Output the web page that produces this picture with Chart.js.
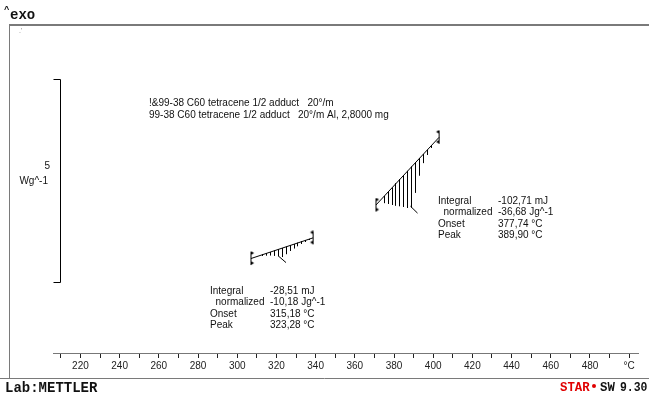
<!DOCTYPE html>
<html>
<head>
<meta charset="utf-8">
<script src="https://cdn.jsdelivr.net/npm/chart.js@4.4.1/dist/chart.umd.min.js"></script>
<style>
  html, body { margin: 0; padding: 0; background: #fff; }
  #wrap { width: 649px; height: 396px; }
</style>
</head>
<body>
<div id="wrap"><canvas id="chart" width="649" height="396"></canvas></div>
<script>
// x axis (°C), minor ticks every 10, labels every 20, unit label at 500
const tickValues = [210, 220, 230, 240, 250, 260, 270, 280, 290, 300, 310, 320, 330, 340, 350,
                    360, 370, 380, 390, 400, 410, 420, 430, 440, 450, 460, 470, 480, 490, 500]
const tickLabels = ['', '220', '', '240', '', '260', '', '280', '', '300', '', '320', '', '340', '',
                    '360', '', '380', '', '400', '', '420', '', '440', '', '460', '', '480', '', '°C']

// y scale bar: 5 Wg^-1
const scaleBarT = [206.4, 209.6, 209.6, 206.4]
const scaleBarY = [1.74, 1.74, 6.74, 6.74]

// first peak: integration baseline, hatch positions and curve depth below the baseline (Wg^-1)
const base1T = [307.0, 338.7]
const base1Y = [2.33, 2.84]
const hatch1T = [313, 315, 317, 319, 321, 323, 325, 327, 329, 331, 333, 335, 337]
const hatch1Depth = [0.03, 0.05, 0.08, 0.12, 0.17, 0.22, 0.18, 0.13, 0.10, 0.08, 0.06, 0.04, 0.02]
const peak1T = [321.3, 324.9]
const peak1Y = [2.38, 2.23]

// second peak
const base2T = [370.8, 403.0]
const base2Y = [3.65, 5.32]
const hatch2T = [375, 377, 379, 381, 383, 385, 387, 389, 391, 393, 395, 397, 399]
const hatch2Depth = [0.17, 0.29, 0.42, 0.54, 0.66, 0.78, 0.91, 1.00, 0.74, 0.42, 0.22, 0.12, 0.05]
const peak2T = [388.4, 392.0]
const peak2Y = [3.62, 3.45]

const legendLines = ['!&99-38 C60 tetracene 1/2 adduct   20°/m',
                     '99-38 C60 tetracene 1/2 adduct   20°/m Al, 2,8000 mg']
const result1 = [['Integral', '-28,51 mJ'], ['  normalized', '-10,18 Jg^-1'], ['Onset', '315,18 °C'], ['Peak', '323,28 °C']]
const result2 = [['Integral', '-102,71 mJ'], ['  normalized', '-36,68 Jg^-1'], ['Onset', '377,74 °C'], ['Peak', '389,90 °C']]

function pts(xs, ys) {
  return xs.map((x, i) => ({x: x, y: ys[i]}))
}

function hatchPoints(bT, bY, hT, hD) {
  const slope = (bY[1] - bY[0]) / (bT[1] - bT[0])
  const out = []
  hT.forEach((t, i) => {
    const yb = bY[0] + slope * (t - bT[0])
    out.push({x: t, y: yb}, {x: t, y: yb - hD[i]}, {x: t, y: null})
  })
  return out
}

function endMarker(side) {
  const c = document.createElement('canvas')
  c.width = 9; c.height = 15
  const g = c.getContext('2d')
  g.fillStyle = '#000'
  g.fillRect(4, 1, 1, 13)
  const d = side === 'left' ? 1 : -1
  ;[2, 12].forEach(y => {
    g.beginPath()
    g.moveTo(4.5, y - 2)
    g.lineTo(4.5 + 3 * d, y)
    g.lineTo(4.5, y + 2)
    g.closePath()
    g.fill()
  })
  return c
}
const leftMark = endMarker('left')
const rightMark = endMarker('right')

const lineDs = (data, snap) => ({
  data: data, borderColor: '#000', borderWidth: 1, pointRadius: 0,
  fill: false, tension: 0, spanGaps: false, snap: snap || false
})

// keep vertical/horizontal strokes on whole pixels so they stay crisp
const snapLines = {
  id: 'snapLines',
  beforeDatasetsDraw(chart) {
    chart.data.datasets.forEach((ds, i) => {
      if (!ds.snap) return
      chart.getDatasetMeta(i).data.forEach(p => {
        p.x = Math.floor(p.x) + 0.5
        if (ds.snap === 'xy') p.y = Math.floor(p.y) + 0.5
      })
    })
  }
}

function condensed(ctx, text, x, y, sx) {
  ctx.save()
  ctx.translate(x, y)
  ctx.scale(sx, 1)
  ctx.fillText(text, 0, 0)
  ctx.restore()
}

const frameAndText = {
  id: 'frameAndText',
  beforeDraw(chart) {
    const ctx = chart.ctx
    ctx.save()
    ctx.fillStyle = '#fff'
    ctx.fillRect(0, 0, chart.width, chart.height)
    ctx.strokeStyle = '#7a7a7a'
    ctx.lineWidth = 2
    ctx.beginPath()
    ctx.moveTo(9, 25); ctx.lineTo(649, 25)
    ctx.stroke()
    ctx.lineWidth = 1
    ctx.beginPath()
    ctx.moveTo(9.5, 25); ctx.lineTo(9.5, 378)
    ctx.moveTo(0, 378.5); ctx.lineTo(649, 378.5)
    ctx.stroke()
    ctx.restore()
  },
  afterDraw(chart) {
    const ctx = chart.ctx
    ctx.save()
    ctx.fillStyle = '#111'
    ctx.textBaseline = 'middle'
    ctx.font = '10px "Liberation Sans"'
    legendLines.forEach((s, i) => ctx.fillText(s, 149, 103 + i * 12))
    result1.forEach((r, i) => {
      ctx.fillText(r[0], 210, 291 + i * 11.5)
      ctx.fillText(r[1], 270, 291 + i * 11.5)
    })
    result2.forEach((r, i) => {
      ctx.fillText(r[0], 438, 201 + i * 11.5)
      ctx.fillText(r[1], 498, 201 + i * 11.5)
    })
    ctx.textAlign = 'right'
    ctx.fillText('5', 50, 166)
    ctx.fillText('Wg^-1', 48, 181)
    ctx.textAlign = 'left'

    ctx.font = 'bold 14px "Liberation Mono"'
    ctx.fillText('exo', 10, 15)
    ctx.font = 'bold 9px "Liberation Mono"'
    ctx.fillText('^', 4, 10)
    ctx.font = '7px "Liberation Sans"'
    ctx.fillStyle = '#888'
    ctx.fillText(".'", 19, 31)

    ctx.fillStyle = '#111'
    ctx.font = 'bold 14px "Liberation Mono"'
    ctx.fillText('Lab:METTLER', 5, 388)
    ctx.font = 'bold 13px "Liberation Mono"'
    ctx.fillStyle = '#e00000'
    condensed(ctx, 'STAR', 560, 388, 0.95)
    ctx.beginPath()
    ctx.arc(594, 386, 2, 0, Math.PI * 2)
    ctx.fill()
    ctx.fillStyle = '#111'
    condensed(ctx, 'SW', 600, 388, 0.95)
    condensed(ctx, '9.30', 620, 388, 0.88)
    ctx.restore()
  }
}

new Chart(document.getElementById('chart'), {
  type: 'line',
  data: {
    datasets: [
      lineDs(pts(scaleBarT, scaleBarY), 'xy'),
      lineDs(pts(base1T, base1Y)),
      lineDs(hatchPoints(base1T, base1Y, hatch1T, hatch1Depth), 'x'),
      lineDs(pts(peak1T, peak1Y)),
      lineDs(pts(base2T, base2Y)),
      lineDs(hatchPoints(base2T, base2Y, hatch2T, hatch2Depth), 'x'),
      lineDs(pts(peak2T, peak2Y)),
      {
        data: pts([base1T[0], base1T[1], base2T[0], base2T[1]], [base1Y[0], base1Y[1], base2Y[0], base2Y[1]]),
        showLine: false,
        pointStyle: [leftMark, rightMark, leftMark, rightMark],
        pointRadius: 6
      }
    ]
  },
  options: {
    responsive: false,
    animation: false,
    devicePixelRatio: 1,
    layout: { padding: { left: 53, right: 11, top: 25, bottom: 22 } },
    plugins: { legend: { display: false }, tooltip: { enabled: false } },
    scales: {
      x: {
        type: 'linear',
        min: 206,
        max: 504.5,
        afterBuildTicks: (scale) => { scale.ticks = tickValues.map(v => ({value: v})) },
        ticks: {
          autoSkip: false,
          maxRotation: 0,
          padding: 2,
          color: '#222',
          font: { family: 'Liberation Sans', size: 10 },
          callback: (value, index) => tickLabels[index]
        },
        grid: { drawOnChartArea: false, tickLength: 5, tickColor: '#222' },
        border: { color: '#777', width: 1 }
      },
      y: { display: false, min: 0, max: 8.09 }
    }
  },
  plugins: [snapLines, frameAndText]
})
</script>
</body>
</html>
